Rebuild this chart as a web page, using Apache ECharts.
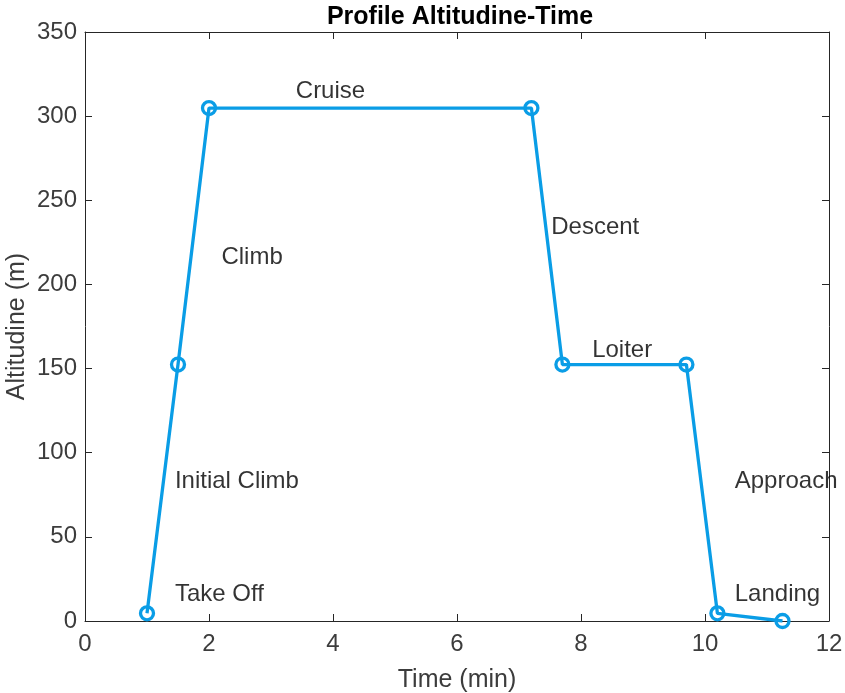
<!DOCTYPE html>
<html>
<head>
<meta charset="utf-8">
<script src="https://cdn.jsdelivr.net/npm/echarts@6/dist/echarts.min.js"></script>
<style>html,body{margin:0;padding:0;background:#fff}#c{width:845px;height:693px}</style>
</head>
<body>
<div id="c"></div>
<script>
// Flight profile data (time in minutes, altitude in metres)
var timeMin = [1, 1.5, 2, 7.2, 7.7, 9.7, 10.2, 11.25];
var altitude = [4.57, 152.4, 304.8, 304.8, 152.4, 152.4, 4.57, 0];

// Phase annotations
var phaseNames = ['Take Off', 'Initial Climb', 'Climb', 'Cruise', 'Descent', 'Loiter', 'Approach', 'Landing'];
var phaseX = [1.45, 1.45, 2.2, 3.4, 7.52, 8.18, 10.48, 10.48];
var phaseY = [16, 83, 216, 314.5, 234, 161, 83, 16];

var xTicks = [0, 2, 4, 6, 8, 10, 12];
var yTicks = [0, 50, 100, 150, 200, 250, 300, 350];

var FONT = '"Liberation Sans", Arial, Helvetica, sans-serif';
var AX = '#262626';
var LBL = '#3c3c3c';
var BLUE = '#0a9de6';

var lineData = timeMin.map(function (t, i) { return [t, altitude[i]]; });
var textData = phaseNames.map(function (n, i) { return [phaseX[i], phaseY[i], n]; });

function axisCommon(extra) {
  var o = {
    type: 'value',
    axisLine: { show: true, onZero: false, lineStyle: { color: AX, width: 1 } },
    axisTick: { show: true, inside: true, length: 7, lineStyle: { color: AX, width: 1 } },
    splitLine: { show: false }
  };
  for (var k in extra) o[k] = extra[k];
  return o;
}

var chart = echarts.init(document.getElementById('c'), null, { renderer: 'canvas' });
chart.setOption({
  animation: false,
  backgroundColor: '#ffffff',
  title: {
    text: 'Profile Altitudine-Time',
    left: 455,
    textAlign: 'center',
    top: 0,
    textStyle: { fontFamily: FONT, fontWeight: 'bold', fontSize: 25, color: '#000' }
  },
  grid: { left: 85, right: 16, top: 32, bottom: 72, containLabel: false, outerBoundsMode: 'none' },
  xAxis: [
    axisCommon({
      min: xTicks[0], max: xTicks[xTicks.length - 1], interval: 2, position: 'bottom',
      name: 'Time (min)', nameLocation: 'middle', nameGap: 47, nameMoveOverlap: false,
      nameTextStyle: { fontFamily: FONT, fontSize: 25, color: LBL },
      axisLabel: { fontFamily: FONT, fontSize: 24, color: LBL, margin: 11 }
    }),
    axisCommon({
      min: xTicks[0], max: xTicks[xTicks.length - 1], interval: 2, position: 'top',
      axisLabel: { show: false }
    })
  ],
  yAxis: [
    axisCommon({
      min: yTicks[0], max: yTicks[yTicks.length - 1], interval: 50, position: 'left',
      name: 'Altitudine (m)', nameLocation: 'middle', nameGap: 55, nameMoveOverlap: false,
      nameTextStyle: { fontFamily: FONT, fontSize: 25, color: LBL },
      axisLabel: { fontFamily: FONT, fontSize: 24, color: LBL, margin: 8 }
    }),
    axisCommon({
      min: yTicks[0], max: yTicks[yTicks.length - 1], interval: 50, position: 'right',
      axisLabel: { show: false }
    })
  ],
  series: [
    {
      type: 'line',
      data: lineData,
      xAxisIndex: 0, yAxisIndex: 0,
      symbol: 'circle',
      symbolSize: 13,
      showAllSymbol: true,
      lineStyle: { color: BLUE, width: 3.3 },
      itemStyle: { color: 'rgba(0,0,0,0)', borderColor: BLUE, borderWidth: 3.3 },
      z: 3
    },
    {
      type: 'scatter',
      data: textData,
      xAxisIndex: 0, yAxisIndex: 0,
      symbolSize: 0,
      silent: true,
      label: {
        show: true,
        position: 'right',
        distance: 0,
        formatter: function (p) { return p.value[2]; },
        fontFamily: FONT,
        fontSize: 24,
        color: '#000'
      },
      z: 4
    }
  ]
});
</script>
</body>
</html>
